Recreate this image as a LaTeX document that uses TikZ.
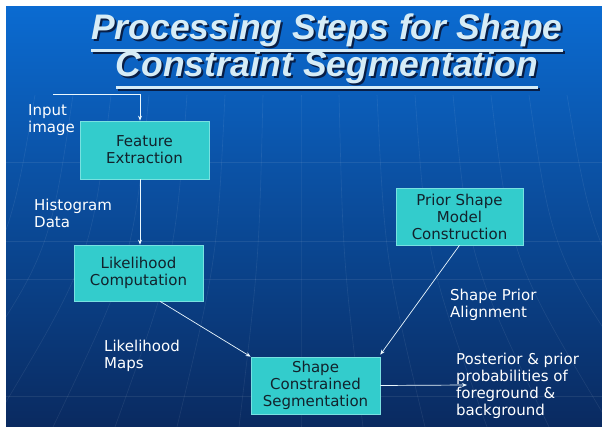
\documentclass[tikz,border=0pt]{standalone}
\usepackage{fontspec}
\setmainfont{DejaVu Sans}
\newfontfamily\headfont{Liberation Sans}
\usetikzlibrary{arrows.meta}

\definecolor{bgtop}{RGB}{11,107,209}
\definecolor{bgmid}{RGB}{10,78,164}
\definecolor{bgbot}{RGB}{10,42,96}
\definecolor{boxfill}{RGB}{51,204,204}
\definecolor{boxedge}{RGB}{120,225,225}
\definecolor{boxtext}{RGB}{18,34,44}
\definecolor{headcol}{RGB}{214,236,246}
\definecolor{headshadow}{RGB}{8,30,70}

% underlined heading text
\newcommand\headul[1]{\vtop{\hbox{#1}\kern2pt\hrule height 2.2pt}}
% underlined heading text with a dark drop shadow behind it
\newcommand\headline[1]{\rlap{\kern2pt\raisebox{-2pt}{\color{headshadow}\headul{#1}}}\headul{#1}}

\begin{document}
\begin{tikzpicture}[x=1pt,y=-1pt,
  stepbox/.style={draw=boxedge,line width=0.6pt,fill=boxfill,text=boxtext,
    minimum width=129pt,minimum height=57pt,align=center,inner sep=0pt,
    font=\fontsize{15}{17}\selectfont},
  lbl/.style={text=white,align=left,anchor=north west,inner sep=0pt,
    font=\fontsize{15}{17}\selectfont},
  arr/.style={draw=white!92!cyan,line width=0.7pt,
    -{Stealth[length=5pt,width=4pt]}},
  head/.style={inner sep=0pt,anchor=base,text=headcol,
    font=\headfont\bfseries\itshape\fontsize{35.5}{38}\selectfont},
  grid/.style={draw=white,opacity=0.08,line width=0.6pt}]

% page and background
\useasboundingbox (0,0) rectangle (602,427);
\fill[white] (0,0) rectangle (602,427);
\shade[top color=bgtop,middle color=bgmid,bottom color=bgbot]
  (6,7) rectangle (602,427);

% faint template grid
\begin{scope}
  \clip (6,7) rectangle (602,427);
  \foreach \yy in {162,241,279,396}
    \draw[grid] (6,\yy) -- (602,\yy);
  \foreach \k in {-8,...,8}
    \draw[grid] (301+\k*38,95) .. controls (301+\k*42,260) .. (301+\k*62,427);
\end{scope}

% heading
\node[head] (h1) at (327,40) {\headline{Processing Steps for Shape}};
\node[head] (h2) at (327,77) {\headline{Constraint Segmentation}};

% processing steps
\node[stepbox,minimum height=58pt] (fe) at (144.5,150) {Feature\\Extraction};
\node[stepbox,minimum height=56pt] (lc) at (138.5,273) {Likelihood\\Computation};
\node[stepbox] (sc) at (315.5,385.5) {Shape\\Constrained\\Segmentation};
\node[stepbox,minimum width=127pt] (ps) at (459.5,216.5) {Prior Shape\\Model\\Construction};

% labels
\node[lbl] (lin) at (28,104) {Input\\image};
\node[lbl] (lhist) at (34,199) {Histogram\\Data};
\node[lbl] (lmaps) at (104,340) {Likelihood\\Maps};
\node[lbl] (lalign) at (450,289) {Shape Prior\\Alignment};
\node[lbl] (lpost) at (456,353) {Posterior \& prior\\probabilities of\\foreground \&\\background};

% connectors
\coordinate (src) at (53,94);
\coordinate (dst) at (467,385);
\draw[arr] (src) -| ([xshift=-4.5pt]fe.north);
\draw[arr] ([xshift=-4.5pt]fe.south) -- ([xshift=-4.5pt]fe.south |- lc.north);
\draw[arr] ([xshift=21.5pt]lc.south) -- (sc.north west);
\draw[arr] (ps.south) -- ([yshift=2pt]sc.north east);
\draw[arr] (sc.east) -- (dst);
\end{tikzpicture}
\end{document}
